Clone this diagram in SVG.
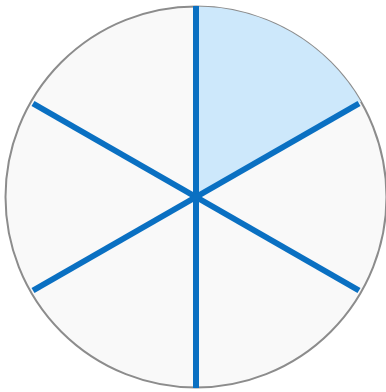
<svg xmlns="http://www.w3.org/2000/svg" width="386" height="392" viewBox="0 0 386 392">
  <style>
    .spoke { stroke: #0a70c2; stroke-width: 6; stroke-linecap: butt; fill: none; }
  </style>
  <rect width="386" height="392" fill="#ffffff"/>
  <g id="circle">
    <circle cx="196" cy="197" r="190.5" fill="#f9f9f9" stroke="#8c8c8c" stroke-width="2"/>
  </g>
  <g id="wedge">
    <path d="M196,197 L196,6.5 A190.5,190.5 0 0,1 361,101.75 Z" fill="#cde8fb"/>
  </g>
  <g id="connectors">
    <line class="spoke" x1="196" y1="6" x2="196" y2="388"/>
    <line class="spoke" x1="33" y1="103.5" x2="359" y2="290.5"/>
    <line class="spoke" x1="33" y1="290.5" x2="359" y2="103.5"/>
  </g>
</svg>
